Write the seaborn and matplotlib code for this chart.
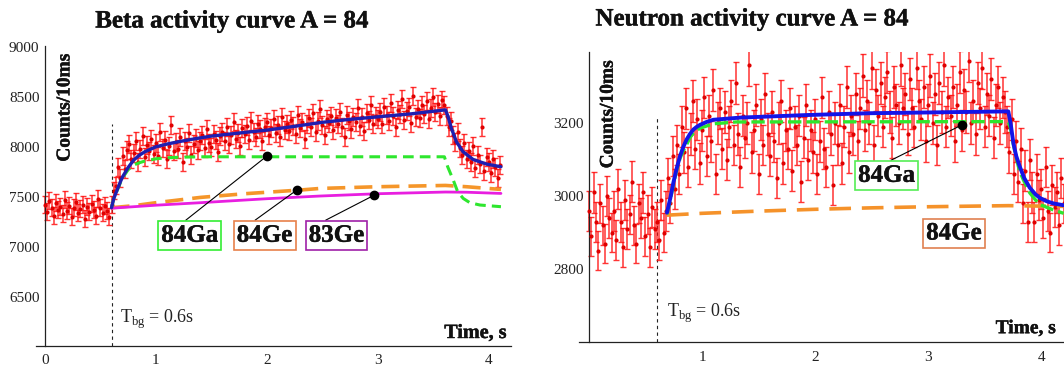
import numpy as np
import pandas as pd
import seaborn as sns
import matplotlib.pyplot as plt
import matplotlib.patheffects as pe
from matplotlib.ticker import MultipleLocator, FixedLocator

sns.set_style('white')
plt.rcParams['font.family'] = ['Liberation Serif', 'DejaVu Serif']
plt.rcParams['mathtext.fontset'] = 'custom'
plt.rcParams['mathtext.rm'] = 'Liberation Serif'

BIN = 0.02  # s, spacing of plotted counts

# beta counts per 10 ms, t = 0 .. 4.10 s
beta_counts = [
    7420, 7350, 7460, 7390, 7310, 7440, 7370, 7400, 7330, 7470,
    7360, 7410, 7300, 7390, 7450, 7340, 7380, 7420, 7280, 7400,
    7350, 7430, 7370, 7310, 7480, 7390, 7340, 7410, 7360, 7300,
    7420, 7560, 7610, 7800, 7690, 7910, 7780, 7970, 8030, 7880,
    7940, 8060, 7850, 7980, 8110, 7900, 8020, 7960, 8080, 7930,
    8040, 7910, 8150, 7990, 8070, 7880, 8010, 8220, 7960, 8050,
    7980, 8100, 7850, 8060, 8000, 8140, 7920, 8030, 8090, 7970,
    8060, 8120, 7990, 8180, 8040, 8000, 8130, 8070, 7950, 8110,
    8150, 8060, 8200, 8030, 8120, 8250, 8080, 8140, 8010, 8190,
    8130, 8210, 8070, 8260, 8150, 8100, 8230, 8180, 8060, 8200,
    8250, 8120, 8190, 8280, 8140, 8220, 8100, 8300, 8170, 8230,
    8160, 8270, 8210, 8130, 8320, 8190, 8250, 8080, 8230, 8290,
    8200, 8340, 8150, 8260, 8380, 8220, 8120, 8280, 8240, 8310,
    8170, 8290, 8230, 8350, 8200, 8100, 8320, 8260, 8180, 8300,
    8250, 8390, 8210, 8300, 8160, 8340, 8270, 8420, 8230, 8310,
    8280, 8350, 8230, 8400, 8320, 8260, 8440, 8310, 8200, 8370,
    8330, 8480, 8270, 8360, 8400, 8240, 8510, 8300, 8380, 8290,
    8420, 8330, 8460, 8280, 8390, 8500, 8350, 8430, 8310, 8470,
    8420, 8310, 8200, 8260, 8120, 8050, 8150, 7990, 7920, 8040,
    7880, 7960, 7850, 8010, 7790, 7920, 7830, 8200, 7760, 7900,
    7850, 7740, 7880, 7800, 7690, 7820,
]

# neutron counts per 10 ms, t = 0 .. 4.20 s
neutron_counts = [
    2960, 2890, 3010, 2930, 2850, 2980, 2920, 2870, 3000, 2940,
    2900, 2960, 2880, 3020, 2930, 2860, 2990, 2910, 2950, 3040,
    2920, 2870, 2980, 2940, 3010, 2890, 2950, 2860, 2970, 2910,
    2930, 2880, 2990, 2900, 2960, 3050, 2980, 3110, 3020, 3140,
    3060, 3190, 3120, 3240, 3080, 3170, 3260, 3130, 3210, 3090,
    3180, 3270, 3110, 3220, 3150, 3290, 3060, 3200, 3240, 3130,
    3230, 3100, 3190, 3260, 3140, 3310, 3170, 3080, 3220, 3160,
    3200, 3360, 3120, 3180, 3250, 3060, 3210, 3140, 3280, 3170,
    3110, 3230, 3150, 3050, 3200, 3260, 3090, 3180, 3130, 3240,
    3070, 3190, 3140, 3220, 3040, 3160, 3250, 3100, 3180, 3120,
    3210, 3060, 3150, 3270, 3130, 3080, 3230, 3170, 3030, 3200,
    3140, 3250, 3090, 3190, 3300, 3120, 3220, 3170, 3280, 3150,
    3240, 3330, 3180, 3260, 3200, 3350, 3140, 3290, 3220, 3310,
    3190, 3270, 3340, 3230, 3160, 3300, 3250, 3200, 3360, 3240,
    3280, 3170, 3320, 3240, 3190, 3350, 3260, 3210, 3300, 3150,
    3250, 3330, 3200, 3280, 3140, 3310, 3230, 3360, 3190, 3270,
    3220, 3300, 3150, 3250, 3340, 3180, 3290, 3230, 3370, 3200,
    3260, 3170, 3310, 3240, 3350, 3190, 3280, 3220, 3320, 3160,
    3250, 3300, 3200, 3270, 3230, 3190, 3120, 3210, 3060, 3150,
    3040, 3130, 2980, 3070, 2930, 3100, 3010, 2930, 3060, 2990,
    3020, 2940, 3080, 2960, 2900, 3030, 2970, 3010, 2920, 3050,
    2980,
]

# fitted components, beta panel
beta_total_t = [0.60, 0.62, 0.65, 0.68, 0.70, 0.75, 0.80, 0.85, 0.90, 1.00, 1.10, 1.20,
                1.35, 1.50, 1.75, 2.00, 2.25, 2.50, 2.75, 3.00, 3.30, 3.61, 3.634, 3.664,
                3.709, 3.769, 3.859, 3.98, 4.11]
beta_total = [7390, 7480, 7567, 7650, 7700, 7793, 7867, 7915, 7950, 8000, 8027, 8050,
              8080, 8107, 8138, 8167, 8205, 8245, 8275, 8300, 8330, 8370, 8300, 8183,
              8050, 7950, 7873, 7827, 7800]
ga84_beta_t = [0.60, 0.62, 0.65, 0.68, 0.70, 0.75, 0.80, 0.85, 0.90, 1.00, 1.10, 1.20,
               1.40, 3.60, 3.63, 3.68, 3.72, 3.77, 3.83, 3.92, 4.11]
ga84_beta = [7390, 7480, 7560, 7640, 7690, 7770, 7817, 7840, 7857, 7880, 7890, 7895,
             7900, 7900, 7800, 7667, 7550, 7483, 7440, 7417, 7400]
ge84_beta_t = [0.60, 0.80, 1.00, 1.40, 1.80, 2.30, 2.48, 3.00, 3.61, 3.80, 4.11]
ge84_beta = [7390, 7410, 7440, 7493, 7530, 7567, 7583, 7600, 7613, 7600, 7573]
ge83_beta_t = [0.60, 1.00, 1.40, 2.00, 2.48, 3.00, 3.61, 3.80, 4.11]
ge83_beta = [7385, 7415, 7440, 7480, 7507, 7530, 7547, 7545, 7533]

# fitted components, neutron panel
neut_total_t = [0.69, 0.72, 0.746, 0.775, 0.805, 0.835, 0.864, 0.893, 0.923, 0.95, 0.982,
                1.04, 1.10, 1.34, 1.93, 2.49, 3.00, 3.71, 3.73, 3.755, 3.78, 3.81, 3.85,
                3.90, 3.95, 3.99, 4.05, 4.11, 4.20]
neut_total = [2955, 2995, 3036, 3075, 3109, 3135, 3155, 3170, 3182, 3189, 3195,
              3203, 3209, 3215, 3222, 3227, 3229, 3232, 3200, 3145, 3110, 3082, 3050,
              3023, 3005, 2995, 2986, 2980, 2975]
ga84_neut_t = [0.69, 0.72, 0.746, 0.775, 0.805, 0.835, 0.864, 0.893, 0.923, 0.982, 1.10,
               1.30, 3.71, 3.73, 3.755, 3.78, 3.81, 3.85, 3.90, 3.95, 3.99, 4.11, 4.20]
ga84_neut = [2950, 2990, 3030, 3070, 3103, 3125, 3141, 3160, 3172, 3186, 3198,
             3203, 3204, 3185, 3141, 3105, 3068, 3040, 3009, 2990, 2977, 2962, 2953]
ge84_neut_t = [0.69, 1.0, 1.5, 2.0, 2.5, 3.0, 3.71, 4.2]
ge84_neut = [2948, 2953, 2959, 2964, 2968, 2971, 2974, 2972]

RED = '#ff1010'
INK = '#111111'
HEAVY = [pe.withStroke(linewidth=0.3, foreground=INK)]


def counts_frame(counts):
    df = pd.DataFrame({'counts': counts})
    df['t'] = np.round(np.arange(len(df)) * BIN, 2)
    df['err'] = np.sqrt(df['counts'])
    return df


def draw_data(ax, df):
    ax.errorbar(df['t'], df['counts'], yerr=df['err'], fmt='none', ecolor=RED,
                elinewidth=1.1, capsize=2.0, capthick=1.0, alpha=0.85, zorder=2)
    sns.scatterplot(data=df, x='t', y='counts', ax=ax, color='#e00000', s=9,
                    linewidth=0, zorder=3, legend=False)


def curve(ax, t, y, color, lw, ls='-'):
    sns.lineplot(x=t, y=y, ax=ax, color=color, lw=lw, linestyle=ls,
                 estimator=None, sort=False, zorder=5)


def style_axis(ax, xlim, ylim):
    ax.set_xlim(*xlim)
    ax.set_ylim(*ylim)
    for s in ['top', 'right']:
        ax.spines[s].set_visible(False)
    ax.spines['left'].set_position(('data', 0))
    for s in ['left', 'bottom']:
        ax.spines[s].set_color('#222222')
        ax.spines[s].set_linewidth(0.9)
    ax.xaxis.set_minor_locator(MultipleLocator(0.2))
    ax.tick_params(which='both', direction='in', colors='#222222', labelsize=11,
                   labelcolor='#222222')
    ax.tick_params(which='major', length=6, width=0.8)
    ax.tick_params(which='minor', length=3, width=0.7)
    ax.tick_params(axis='x', pad=6)
    ax.tick_params(axis='y', pad=4)
    ax.set_xlabel('')
    ax.set_ylabel('')
    ax.patch.set_alpha(0)


def label_box(ax, text, xy, xytext, edge, relx=0.5, line=True):
    kw = dict(ha='center', va='center', fontsize=18, fontweight='bold', color=INK,
              bbox=dict(boxstyle='square,pad=0.12', fc='white', ec=edge, lw=1.2),
              zorder=8, path_effects=HEAVY)
    if line:
        ax.annotate(text, xy=xy, xytext=xytext,
                    arrowprops=dict(arrowstyle='-', color='black', lw=0.8,
                                    shrinkA=0, shrinkB=0, relpos=(relx, 1.0)), **kw)
        ax.plot([xy[0]], [xy[1]], 'o', color='black', ms=6, zorder=9)
    else:
        ax.text(xytext[0], xytext[1], text, **kw)


fig = plt.figure(figsize=(10.64, 3.76), dpi=100)
ax1 = fig.add_axes([0.0339, 0.0798, 0.4463, 0.798])
ax2 = fig.add_axes([0.5440, 0.0896, 0.4557, 0.7726])

# ---- beta panel
beta = counts_frame(beta_counts)
draw_data(ax1, beta)
curve(ax1, ge84_beta_t, ge84_beta, '#f5962a', 2.6, (0, (5, 2.5)))
curve(ax1, ge83_beta_t, ge83_beta, '#e81ee0', 2.0)
curve(ax1, ga84_beta_t, ga84_beta, '#2ee62e', 2.2, (0, (3.5, 2)))
curve(ax1, beta_total_t, beta_total, '#1f1fb0', 2.4)
ax1.plot([0.6, 0.6], [6005, 8233], color='#222222', lw=0.8, linestyle=(0, (3, 3)), zorder=1)
style_axis(ax1, (-0.08, 4.2), (6005, 9010))
ax1.yaxis.set_major_locator(FixedLocator([6500, 7000, 7500, 8000, 8500, 9000]))
ax1.yaxis.set_minor_locator(MultipleLocator(100))
ax1.set_xticks([0, 1, 2, 3, 4])

label_box(ax1, '84Ga', (2.0, 7907), (1.306, 7114), '#33ee33', relx=0.35)
label_box(ax1, '84Ge', (2.27, 7567), (1.98, 7114), '#e8804a', relx=0.24)
label_box(ax1, '83Ge', (2.97, 7517), (2.628, 7114), '#a020a8', relx=0.18)

ax1.text(0.18, 8937, 'Counts/10ms', rotation=90, ha='center', va='top',
         fontsize=14, fontweight='bold', color=INK, path_effects=HEAVY)
ax1.text(0.676, 6232, r'T$_{\mathrm{bg}}$ = 0.6s', fontsize=13, color='#222222')
ax1.text(4.16, 6085, 'Time, s', ha='right', va='baseline', fontsize=14.5,
         fontweight='bold', color=INK, path_effects=HEAVY)

# ---- neutron panel
neut = counts_frame(neutron_counts)
draw_data(ax2, neut)
curve(ax2, ge84_neut_t, ge84_neut, '#f5922a', 2.6, (0, (6, 3)))
curve(ax2, ga84_neut_t, ga84_neut, '#2ee62e', 2.4, (0, (4, 1.5)))
curve(ax2, neut_total_t, neut_total, '#1414e8', 2.8)
ax2.plot([0.6, 0.6], [2600, 3220], color='#222222', lw=0.8, linestyle=(0, (3, 3)), zorder=1)
style_axis(ax2, (-0.09, 4.2), (2600, 3395))
ax2.yaxis.set_major_locator(FixedLocator([2800, 3000, 3200]))
ax2.yaxis.set_minor_locator(MultipleLocator(50))
ax2.set_xticks([1, 2, 3, 4])

label_box(ax2, '84Ga', (3.30, 3195), (2.634, 3057), '#55ee55', relx=0.45)
label_box(ax2, '84Ge', None, (3.23, 2899), '#e08050', line=False)

ax2.text(0.17, 3373, 'Counts/10ms', rotation=90, ha='center', va='top',
         fontsize=14, fontweight='bold', color=INK, path_effects=HEAVY)
ax2.text(0.687, 2670, r'T$_{\mathrm{bg}}$ = 0.6s', fontsize=13, color='#222222')
ax2.text(4.13, 2625, 'Time, s', ha='right', va='baseline', fontsize=14,
         fontweight='bold', color=INK, path_effects=HEAVY)

fig.text(232 / 1064, 1 - 21 / 376, 'Beta activity curve A = 84', ha='center', va='center',
         fontsize=18, fontweight='bold', color=INK, path_effects=HEAVY)
fig.text(752 / 1064, 1 - 19 / 376, 'Neutron activity curve A = 84', ha='center',
         va='center', fontsize=18, fontweight='bold', color=INK, path_effects=HEAVY)

fig.savefig('out.png', dpi=100)
